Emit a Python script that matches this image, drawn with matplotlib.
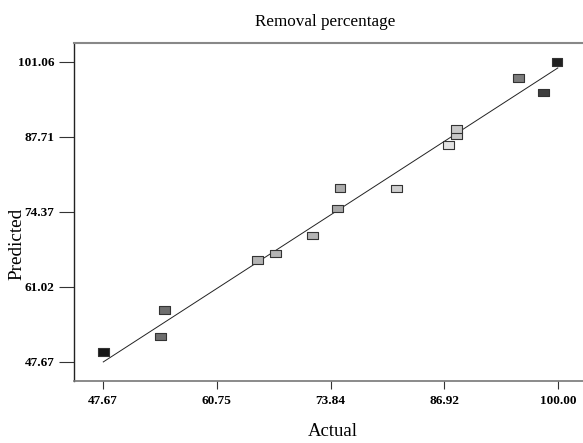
import matplotlib
matplotlib.use("Agg")
import matplotlib.pyplot as plt
from matplotlib.path import Path

actual = [47.67, 54.69, 54.23, 65.45, 67.47, 71.73, 74.61, 74.92, 81.41, 87.39, 88.36, 88.36, 95.46, 98.38, 99.91]
predicted = [49.44, 56.92, 52.23, 65.80, 67.00, 70.15, 74.95, 78.63, 78.51, 86.29, 88.01, 89.13, 98.21, 95.67, 101.06]
colors = ["#151515", "#6e6e6e", "#6e6e6e", "#b4b4b4", "#b4b4b4", "#b4b4b4", "#a8a8a8", "#acacac",
          "#cfcfcf", "#e2e2e2", "#c8c8c8", "#c8c8c8", "#7c7c7c", "#3e3e3e", "#202020"]
xticks = [47.67, 60.75, 73.84, 86.92, 100.00]
yticks = [47.67, 61.02, 74.37, 87.71, 101.06]
fit_line = [47.67, 100.00]

fig = plt.figure(figsize=(5.83, 4.43), dpi=100)
ax = fig.add_axes([74/583, 1-380.7/443, 1-74/583, (380.7-43)/443])

ax.plot(fit_line, fit_line, color="#222222", lw=0.7, zorder=2)
rect = Path([(-1.5, -1), (1.5, -1), (1.5, 1), (-1.5, 1), (-1.5, -1)],
            [Path.MOVETO, Path.LINETO, Path.LINETO, Path.LINETO, Path.CLOSEPOLY])
ax.scatter(actual, predicted, marker=rect, s=60, c=colors, edgecolors="#333333",
           linewidths=0.8, zorder=3)

ax.set_xlim(44.3, 102.9)
ax.set_ylim(44.33, 104.44)
ax.set_xticks(xticks)
ax.set_xticklabels([f"{v:.2f}" for v in xticks])
ax.set_yticks(yticks)
ax.set_yticklabels([f"{v:.2f}" for v in yticks])

for lab in ax.get_xticklabels() + ax.get_yticklabels():
    lab.set_fontfamily("Liberation Serif")
    lab.set_fontweight("bold")
    lab.set_fontsize(9.5)
ax.tick_params(axis="x", direction="out", length=6, width=0.8, color="#333333", pad=4)
ax.tick_params(axis="y", direction="out", length=11, width=0.8, color="#333333", pad=3)

ax.spines["right"].set_visible(False)
ax.spines["left"].set_color("#222222")
ax.spines["left"].set_linewidth(1.0)
ax.spines["bottom"].set_color("#777777")
ax.spines["bottom"].set_linewidth(1.2)
ax.spines["top"].set_color("#888888")
ax.spines["top"].set_linewidth(1.5)

fig.text(325/583, 1-22/443, "Removal percentage", ha="center", va="center",
         family="Liberation Serif", fontsize=12.3)
fig.text(333/583, 1-432/443, "Actual", ha="center", va="center",
         family="Liberation Serif", fontsize=13.5)
fig.text(17/583, 1-244/443, "Predicted", ha="center", va="center", rotation=90,
         family="Liberation Serif", fontsize=13.8)

fig.savefig("out.png", dpi=100)
